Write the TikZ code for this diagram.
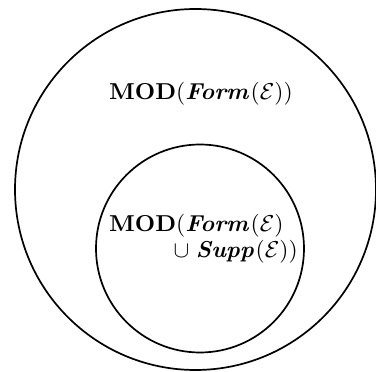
\documentclass[tikz,border=0pt]{standalone}
\usepackage{amsmath}
\usepackage{graphicx}
\newcommand{\labscale}[1]{\scalebox{2.36}[2.3]{#1}}
\begin{document}
\begin{tikzpicture}[x=1pt,y=1pt,
  ring/.style={draw=black, line width=1.7pt},
  lab/.style={inner sep=0pt}]
\useasboundingbox (0,0) rectangle (376,372);
\node[ring, circle, minimum size=361pt, inner sep=0pt] (outer) at (195.5,182.5) {};
\node[ring, circle, minimum size=208pt, inner sep=0pt] (inner) at (200,123.5) {};
\node[lab, anchor=base west] (t1) at (109,272) {\labscale{$\mathbf{MOD}(\boldsymbol{\mathit{Form}}(\mathcal{E}))$}};
\node[lab, anchor=base west] (t2) at (109,140) {\labscale{$\mathbf{MOD}(\boldsymbol{\mathit{Form}}(\mathcal{E})$}};
\node[lab, anchor=base east] (t3) at (298,114) {\labscale{$\cup\;\boldsymbol{\mathit{Supp}}(\mathcal{E}))$}};
\end{tikzpicture}
\end{document}
